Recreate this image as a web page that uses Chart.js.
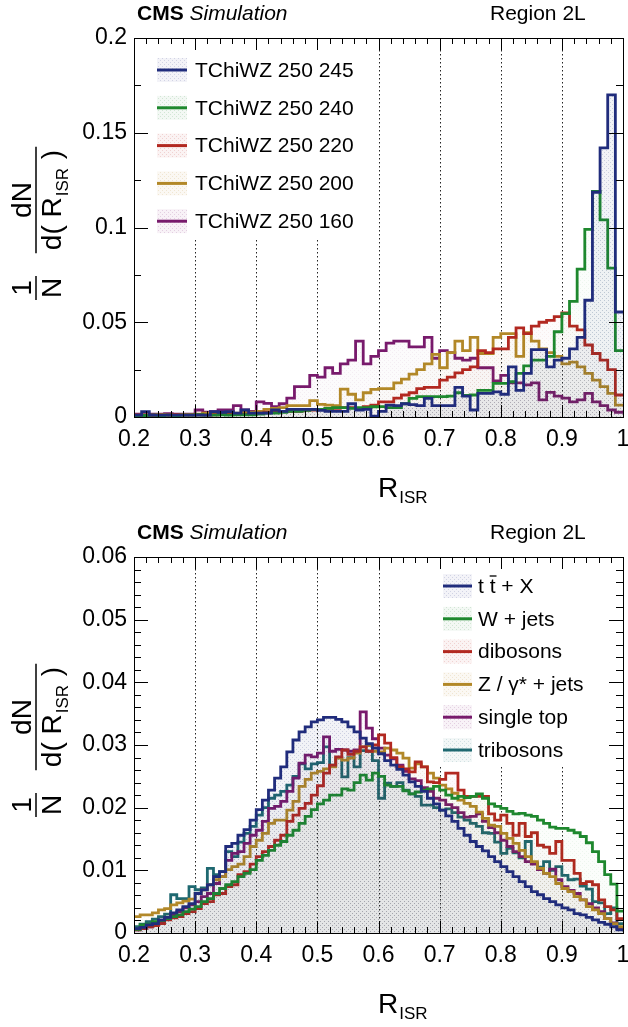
<!DOCTYPE html>
<html>
<head>
<meta charset="utf-8">
<script src="https://cdn.jsdelivr.net/npm/chart.js@4.4.1/dist/chart.umd.min.js"></script>
<style>
html, body { margin: 0; padding: 0; background: #fff; }
#wrap { position: relative; width: 628px; height: 1027px; }
canvas { position: absolute; left: 0; }
#top-chart { top: 0; }
#bottom-chart { top: 513px; }
</style>
</head>
<body>
<div id="wrap">
<canvas id="top-chart" width="628" height="513"></canvas>
<canvas id="bottom-chart" width="628" height="514"></canvas>
</div>
<script>
// R_ISR range and binning of the two panels
var rangeISR = [0.2, 1.0];
var topBins = 64;
var bottomBins = 80;

// top panel: signal samples
var topLabels = ['TChiWZ 250 245', 'TChiWZ 250 240', 'TChiWZ 250 220', 'TChiWZ 250 200', 'TChiWZ 250 160'];
var top245 = [0.0010,0.0028,0.0010,0.0010,0.0010,0.0010,0.0010,0.0010,0.0010,0.0010,
    0.0028,0.0025,0.0028,0.0020,0.0037,0.0020,0.0020,0.0020,0.0037,0.0030,
    0.0040,0.0040,0.0040,0.0040,0.0035,0.0030,0.0030,0.0030,0.0070,0.0037,
    0.0040,0.0005,0.0030,0.0063,0.0060,0.0070,0.0065,0.0060,0.0098,0.0060,
    0.0060,0.0060,0.0156,0.0110,0.0037,0.0125,0.0125,0.0133,0.0120,0.0265,
    0.0140,0.0230,0.0356,0.0356,0.0265,0.0300,0.0310,0.0360,0.0420,0.0616,
    0.1186,0.1420,0.1700,0.0554];
var top240 = [0.0008,0.0008,0.0010,0.0008,0.0010,0.0008,0.0010,0.0010,0.0012,0.0010,
    0.0010,0.0012,0.0010,0.0012,0.0012,0.0012,0.0015,0.0020,0.0020,0.0025,
    0.0030,0.0030,0.0035,0.0040,0.0040,0.0045,0.0050,0.0050,0.0045,0.0050,
    0.0050,0.0054,0.0055,0.0050,0.0050,0.0070,0.0098,0.0107,0.0107,0.0107,
    0.0107,0.0110,0.0128,0.0114,0.0116,0.0140,0.0140,0.0177,0.0177,0.0186,
    0.0230,0.0270,0.0300,0.0300,0.0320,0.0450,0.0545,0.0610,0.0780,0.0990,
    0.1190,0.1040,0.0786,0.0350];
var top220 = [0.0010,0.0010,0.0008,0.0010,0.0010,0.0012,0.0010,0.0010,0.0012,0.0010,
    0.0012,0.0015,0.0015,0.0015,0.0015,0.0015,0.0020,0.0025,0.0028,0.0028,
    0.0030,0.0030,0.0035,0.0037,0.0040,0.0045,0.0045,0.0050,0.0050,0.0045,
    0.0054,0.0063,0.0080,0.0080,0.0100,0.0116,0.0128,0.0150,0.0156,0.0156,
    0.0195,0.0210,0.0233,0.0250,0.0265,0.0350,0.0340,0.0360,0.0360,0.0420,
    0.0470,0.0440,0.0480,0.0500,0.0510,0.0530,0.0550,0.0480,0.0460,0.0380,
    0.0335,0.0300,0.0250,0.0116];
var top200 = [0.0010,0.0010,0.0010,0.0012,0.0010,0.0010,0.0012,0.0012,0.0015,0.0020,
    0.0020,0.0020,0.0025,0.0020,0.0025,0.0025,0.0030,0.0040,0.0045,0.0050,
    0.0060,0.0060,0.0060,0.0086,0.0067,0.0063,0.0060,0.0147,0.0120,0.0090,
    0.0128,0.0146,0.0150,0.0150,0.0180,0.0200,0.0226,0.0250,0.0280,0.0330,
    0.0260,0.0340,0.0400,0.0350,0.0420,0.0335,0.0335,0.0420,0.0440,0.0440,
    0.0320,0.0445,0.0400,0.0360,0.0340,0.0320,0.0280,0.0290,0.0265,0.0230,
    0.0195,0.0160,0.0125,0.0063];
var top160 = [0.0015,0.0012,0.0015,0.0015,0.0018,0.0015,0.0015,0.0015,0.0037,0.0025,
    0.0028,0.0037,0.0037,0.0060,0.0037,0.0030,0.0080,0.0072,0.0054,0.0070,
    0.0100,0.0160,0.0160,0.0220,0.0210,0.0260,0.0230,0.0280,0.0300,0.0400,
    0.0280,0.0320,0.0350,0.0390,0.0400,0.0400,0.0370,0.0370,0.0420,0.0310,
    0.0350,0.0340,0.0310,0.0300,0.0310,0.0260,0.0260,0.0190,0.0220,0.0180,
    0.0180,0.0170,0.0180,0.0090,0.0130,0.0110,0.0100,0.0080,0.0090,0.0125,
    0.0080,0.0060,0.0037,0.0025];

// bottom panel: background samples
var bottomLabels = ['t t + X', 'W + jets', 'dibosons', 'Z / \u03b3* + jets', 'single top', 'tribosons'];
var ttX = [0.0007,0.0009,0.0013,0.0015,0.0021,0.0025,0.0032,0.0037,0.0042,0.0047,
    0.0063,0.0069,0.0077,0.0090,0.0098,0.0138,0.0143,0.0156,0.0165,0.0180,
    0.0197,0.0212,0.0228,0.0247,0.0265,0.0289,0.0308,0.0321,0.0329,0.0337,
    0.0340,0.0344,0.0344,0.0341,0.0337,0.0329,0.0321,0.0311,0.0302,0.0295,
    0.0286,0.0275,0.0268,0.0261,0.0252,0.0241,0.0234,0.0226,0.0215,0.0206,
    0.0196,0.0187,0.0178,0.0167,0.0156,0.0146,0.0138,0.0131,0.0122,0.0114,
    0.0106,0.0098,0.0090,0.0082,0.0074,0.0066,0.0061,0.0055,0.0050,0.0045,
    0.0040,0.0037,0.0031,0.0029,0.0025,0.0021,0.0017,0.0014,0.0010,0.0005];
var wJets = [0.0006,0.0013,0.0014,0.0018,0.0020,0.0023,0.0026,0.0029,0.0034,0.0038,
    0.0042,0.0050,0.0055,0.0063,0.0071,0.0077,0.0082,0.0090,0.0095,0.0101,
    0.0116,0.0124,0.0132,0.0140,0.0146,0.0156,0.0164,0.0175,0.0186,0.0197,
    0.0206,0.0212,0.0220,0.0220,0.0230,0.0228,0.0240,0.0252,0.0244,0.0255,
    0.0250,0.0236,0.0234,0.0234,0.0227,0.0222,0.0225,0.0228,0.0230,0.0234,
    0.0228,0.0220,0.0215,0.0218,0.0216,0.0218,0.0222,0.0215,0.0206,0.0202,
    0.0199,0.0194,0.0190,0.0191,0.0188,0.0186,0.0180,0.0175,0.0169,0.0167,
    0.0167,0.0164,0.0160,0.0154,0.0144,0.0130,0.0114,0.0093,0.0078,0.0035];
var dibosons = [0.0005,0.0007,0.0010,0.0012,0.0015,0.0021,0.0024,0.0026,0.0031,0.0034,
    0.0039,0.0047,0.0050,0.0061,0.0063,0.0074,0.0077,0.0093,0.0098,0.0110,
    0.0122,0.0130,0.0138,0.0148,0.0156,0.0178,0.0188,0.0199,0.0207,0.0220,
    0.0235,0.0255,0.0268,0.0281,0.0292,0.0285,0.0290,0.0297,0.0290,0.0300,
    0.0316,0.0303,0.0280,0.0265,0.0262,0.0257,0.0273,0.0265,0.0241,0.0240,
    0.0245,0.0255,0.0255,0.0228,0.0218,0.0218,0.0218,0.0218,0.0190,0.0180,
    0.0188,0.0175,0.0156,0.0175,0.0154,0.0160,0.0140,0.0137,0.0127,0.0146,
    0.0116,0.0116,0.0095,0.0079,0.0082,0.0077,0.0053,0.0042,0.0037,0.0023];
var zJets = [0.0026,0.0029,0.0029,0.0032,0.0037,0.0039,0.0045,0.0048,0.0051,0.0054,
    0.0063,0.0069,0.0077,0.0085,0.0090,0.0101,0.0106,0.0110,0.0122,0.0138,
    0.0148,0.0159,0.0175,0.0180,0.0180,0.0196,0.0210,0.0234,0.0245,0.0255,
    0.0258,0.0262,0.0265,0.0279,0.0276,0.0279,0.0287,0.0297,0.0299,0.0290,
    0.0289,0.0295,0.0292,0.0287,0.0279,0.0263,0.0270,0.0265,0.0255,0.0247,
    0.0236,0.0230,0.0223,0.0212,0.0207,0.0202,0.0193,0.0183,0.0172,0.0170,
    0.0159,0.0151,0.0143,0.0132,0.0122,0.0114,0.0103,0.0095,0.0090,0.0079,
    0.0071,0.0066,0.0058,0.0053,0.0042,0.0037,0.0031,0.0023,0.0015,0.0010];
var singleTop = [0.0005,0.0007,0.0010,0.0013,0.0018,0.0023,0.0029,0.0034,0.0040,0.0045,
    0.0050,0.0058,0.0063,0.0079,0.0090,0.0116,0.0127,0.0130,0.0143,0.0156,
    0.0164,0.0178,0.0199,0.0202,0.0210,0.0226,0.0247,0.0271,0.0284,0.0281,
    0.0287,0.0313,0.0290,0.0293,0.0292,0.0290,0.0292,0.0353,0.0327,0.0310,
    0.0295,0.0284,0.0278,0.0268,0.0258,0.0246,0.0243,0.0232,0.0226,0.0215,
    0.0212,0.0205,0.0200,0.0192,0.0185,0.0186,0.0190,0.0178,0.0168,0.0160,
    0.0148,0.0138,0.0130,0.0122,0.0114,0.0110,0.0101,0.0095,0.0102,0.0085,
    0.0074,0.0068,0.0063,0.0053,0.0047,0.0040,0.0034,0.0023,0.0016,0.0007];
var tribosons = [0.0010,0.0014,0.0018,0.0022,0.0026,0.0030,0.0061,0.0055,0.0055,0.0074,
    0.0069,0.0072,0.0103,0.0093,0.0098,0.0130,0.0122,0.0145,0.0159,0.0170,
    0.0188,0.0200,0.0215,0.0220,0.0226,0.0236,0.0250,0.0270,0.0262,0.0270,
    0.0272,0.0297,0.0268,0.0280,0.0249,0.0280,0.0265,0.0291,0.0290,0.0275,
    0.0215,0.0239,0.0234,0.0240,0.0228,0.0222,0.0218,0.0204,0.0204,0.0200,
    0.0196,0.0198,0.0192,0.0185,0.0180,0.0175,0.0170,0.0160,0.0159,0.0145,
    0.0127,0.0135,0.0128,0.0120,0.0146,0.0112,0.0105,0.0114,0.0100,0.0106,
    0.0092,0.0085,0.0086,0.0075,0.0070,0.0050,0.0048,0.0031,0.0040,0.0015];

// line colours as r,g,b
var colBlue = '32,44,124';
var colGreen = '30,136,46';
var colRed = '178,40,32';
var colGold = '178,136,40';
var colPurple = '120,26,108';
var colTeal = '30,104,112';

var FONT = '"Liberation Sans", Arial, Helvetica, sans-serif';

// light dotted fill, the blue one a bit stronger since it lies on top
function makePattern(rgb, strength) {
    var c = document.createElement('canvas');
    c.width = 4;
    c.height = 4;
    var g = c.getContext('2d');
    g.fillStyle = 'rgba(' + rgb + ',' + (0.03 * strength) + ')';
    g.fillRect(0, 0, 4, 4);
    g.fillStyle = 'rgba(' + rgb + ',' + (0.09 * strength) + ')';
    g.fillRect(0, 0, 1, 1);
    g.fillRect(2, 2, 1, 1);
    return g.createPattern(c, 'repeat');
}

function histPoints(values, bins) {
    var w = (rangeISR[1] - rangeISR[0]) / bins;
    var pts = [];
    for (var i = 0; i < values.length; i++) {
        pts.push({ x: rangeISR[0] + i * w, y: values[i] });
    }
    pts.push({ x: rangeISR[1], y: values[values.length - 1] });
    return pts;
}

function fmt(v) {
    return String(+Number(v).toFixed(3));
}

function drawTicks(chart, p) {
    var ctx = chart.ctx, a = chart.chartArea, sx = chart.scales.x, sy = chart.scales.y;
    ctx.save();
    ctx.strokeStyle = '#000';
    ctx.lineWidth = 1;
    ctx.beginPath();
    // x ticks every 0.02, major every 0.1
    for (var i = 0; i <= 40; i++) {
        var x = Math.round(sx.getPixelForValue(0.2 + i * 0.02)) + 0.5;
        var len = (i % 5 === 0) ? 12 : 6;
        ctx.moveTo(x, a.bottom); ctx.lineTo(x, a.bottom - len);
        ctx.moveTo(x, a.top); ctx.lineTo(x, a.top + len);
    }
    for (var j = 0; j <= p.yMinorCount; j++) {
        var y = Math.round(sy.getPixelForValue(j * p.yMinor)) + 0.5;
        var ylen = (j % p.yMajorEvery === 0) ? 14 : 7;
        ctx.moveTo(a.left, y); ctx.lineTo(a.left + ylen, y);
        ctx.moveTo(a.right, y); ctx.lineTo(a.right - ylen, y);
    }
    ctx.stroke();
    ctx.strokeRect(Math.round(a.left) + 0.5, Math.round(a.top) + 0.5, Math.round(a.right - a.left), Math.round(a.bottom - a.top));
    ctx.restore();
}

function drawGrid(chart, p) {
    var ctx = chart.ctx, a = chart.chartArea, sx = chart.scales.x;
    ctx.save();
    ctx.strokeStyle = '#222';
    ctx.lineWidth = 1;
    ctx.setLineDash([1.5, 2.5]);
    for (var i = 3; i <= 9; i++) {
        var x = Math.round(sx.getPixelForValue(i / 10)) + 0.5;
        var y0 = (x > p.legendX0 && x < p.legendX1) ? p.legendY1 : a.top;
        ctx.beginPath();
        ctx.moveTo(x, y0);
        ctx.lineTo(x, a.bottom);
        ctx.stroke();
    }
    ctx.restore();
}

function drawLegend(chart, p) {
    var ctx = chart.ctx;
    ctx.save();
    chart.data.datasets.forEach(function (ds, i) {
        var cy = p.legendRow0 + i * p.legendDy;
        ctx.fillStyle = ds.legendFill;
        ctx.fillRect(p.boxX, cy - 12, p.boxW, 24);
        ctx.strokeStyle = ds.borderColor;
        ctx.lineWidth = 3;
        ctx.beginPath();
        ctx.moveTo(p.boxX, cy);
        ctx.lineTo(p.boxX + p.boxW, cy);
        ctx.stroke();
        ctx.fillStyle = '#000';
        ctx.font = '21px ' + FONT;
        ctx.textBaseline = 'middle';
        ctx.textAlign = 'left';
        if (ds.label === 't t + X') {
            // t tbar + X
            var w1 = ctx.measureText('t ').width;
            var w2 = ctx.measureText('t').width;
            ctx.fillText('t ', p.textX, cy + 1);
            ctx.fillText('t', p.textX + w1, cy + 1);
            ctx.fillText(' + X', p.textX + w1 + w2, cy + 1);
            ctx.lineWidth = 1.3;
            ctx.strokeStyle = '#000';
            ctx.beginPath();
            ctx.moveTo(p.textX + w1, cy - 10);
            ctx.lineTo(p.textX + w1 + w2 + 1, cy - 10);
            ctx.stroke();
        } else {
            ctx.fillText(ds.label, p.textX, cy + 1);
        }
    });
    ctx.restore();
}

function drawTexts(chart, p) {
    var ctx = chart.ctx;
    ctx.save();
    ctx.fillStyle = '#000';
    ctx.textBaseline = 'alphabetic';
    ctx.textAlign = 'left';
    ctx.font = 'bold 21px ' + FONT;
    ctx.fillText('CMS', 137, p.titleY);
    var w = ctx.measureText('CMS ').width;
    ctx.font = 'italic 21px ' + FONT;
    ctx.fillText('Simulation', 137 + w, p.titleY);
    ctx.font = '21px ' + FONT;
    ctx.fillText('Region 2L', 490, p.titleY);

    // x axis title
    ctx.font = '28px ' + FONT;
    ctx.fillText('R', 378, p.xTitleY);
    var wr = ctx.measureText('R').width;
    ctx.font = '17px ' + FONT;
    ctx.fillText('ISR', 378 + wr + 1, p.xTitleY + 6);

    // y axis title: 1/N dN/d(R_ISR)
    ctx.translate(36, p.fracY);
    ctx.rotate(-Math.PI / 2);
    ctx.font = '28px ' + FONT;
    var wd1 = ctx.measureText('d( R').width;
    ctx.font = '17px ' + FONT;
    var ws = ctx.measureText('ISR').width;
    ctx.font = '28px ' + FONT;
    var wd2 = ctx.measureText(' )').width;
    var wden = wd1 + ws + wd2 + 2;
    var half = wden / 2 + 3;
    ctx.lineWidth = 1.5;
    ctx.strokeStyle = '#000';
    ctx.beginPath();
    ctx.moveTo(-half, 0); ctx.lineTo(half, 0);
    ctx.stroke();
    ctx.textAlign = 'center';
    ctx.fillText('dN', 0, -5);
    ctx.textAlign = 'left';
    var x0 = -wden / 2;
    ctx.fillText('d( R', x0, 25);
    ctx.font = '17px ' + FONT;
    ctx.fillText('ISR', x0 + wd1 + 1, 32);
    ctx.font = '28px ' + FONT;
    ctx.fillText(' )', x0 + wd1 + ws + 2, 25);

    var dy = p.oneY - p.fracY;
    ctx.translate(-dy, 0);
    ctx.beginPath();
    ctx.moveTo(-12, 0); ctx.lineTo(12, 0);
    ctx.stroke();
    ctx.textAlign = 'center';
    ctx.fillText('1', 0, -5);
    ctx.fillText('N', 0, 25);
    ctx.restore();
}

var decorPlugin = {
    id: 'decor',
    beforeDatasetsDraw: function (chart) {
        drawGrid(chart, chart.options.plugins.decor);
    },
    afterDraw: function (chart) {
        var p = chart.options.plugins.decor;
        drawTicks(chart, p);
        drawLegend(chart, p);
        drawTexts(chart, p);
    }
};

function buildChart(canvasId, series, bins, yMax, yStep, layoutTop, xHeight, decor) {
    var datasets = series.map(function (s, i) {
        return {
            label: s.label,
            data: histPoints(s.values, bins),
            borderColor: 'rgb(' + s.rgb + ')',
            backgroundColor: makePattern(s.rgb, i === 0 ? 2.0 : 0.7),
            legendFill: makePattern(s.rgb, 1.8),
            borderWidth: 2.8,
            borderJoinStyle: 'miter',
            pointRadius: 0,
            stepped: 'before',
            fill: 'origin',
            tension: 0
        };
    });
    return new Chart(document.getElementById(canvasId), {
        type: 'line',
        data: { datasets: datasets },
        plugins: [decorPlugin],
        options: {
            responsive: false,
            animation: false,
            devicePixelRatio: 1,
            layout: { padding: { top: layoutTop, right: 5, left: 0, bottom: 0 } },
            plugins: {
                legend: { display: false },
                tooltip: { enabled: false },
                decor: decor
            },
            scales: {
                x: {
                    type: 'linear',
                    min: rangeISR[0],
                    max: rangeISR[1],
                    grid: { display: false, drawTicks: false },
                    border: { display: false },
                    ticks: {
                        stepSize: 0.1,
                        autoSkip: false,
                        maxRotation: 0,
                        padding: 9,
                        color: '#000',
                        font: { family: FONT, size: 23 },
                        callback: fmt
                    },
                    afterFit: function (s) {
                        s.height = xHeight;
                        s.paddingLeft = 0;
                        s.paddingRight = 0;
                    }
                },
                y: {
                    min: 0,
                    max: yMax,
                    grid: { display: false, drawTicks: false },
                    border: { display: false },
                    ticks: {
                        stepSize: yStep,
                        autoSkip: false,
                        padding: 7,
                        color: '#000',
                        font: { family: FONT, size: 23 },
                        callback: fmt
                    },
                    afterFit: function (s) {
                        s.width = 134;
                        s.paddingTop = 0;
                        s.paddingBottom = 0;
                    }
                }
            }
        }
    });
}

buildChart('top-chart', [
    { label: topLabels[0], values: top245, rgb: colBlue },
    { label: topLabels[1], values: top240, rgb: colGreen },
    { label: topLabels[2], values: top220, rgb: colRed },
    { label: topLabels[3], values: top200, rgb: colGold },
    { label: topLabels[4], values: top160, rgb: colPurple }
], topBins, 0.2, 0.05, 38, 96, {
    yMinor: 0.025, yMinorCount: 8, yMajorEvery: 2,
    legendX0: 134, legendX1: 375, legendY1: 240,
    legendRow0: 70, legendDy: 37.8, boxX: 157, boxW: 30, textX: 195,
    titleY: 20, xTitleY: 497, fracY: 200, oneY: 288
});

buildChart('bottom-chart', [
    { label: bottomLabels[0], values: ttX, rgb: colBlue },
    { label: bottomLabels[1], values: wJets, rgb: colGreen },
    { label: bottomLabels[2], values: dibosons, rgb: colRed },
    { label: bottomLabels[3], values: zJets, rgb: colGold },
    { label: bottomLabels[4], values: singleTop, rgb: colPurple },
    { label: bottomLabels[5], values: tribosons, rgb: colTeal }
], bottomBins, 0.06, 0.01, 44, 94, {
    yMinor: 0.002, yMinorCount: 30, yMajorEvery: 5,
    legendX0: 385, legendX1: 623, legendY1: 254,
    legendRow0: 73, legendDy: 32.8, boxX: 443, boxW: 29, textX: 478,
    titleY: 26, xTitleY: 500, fracY: 204, oneY: 292
});
</script>
</body>
</html>
